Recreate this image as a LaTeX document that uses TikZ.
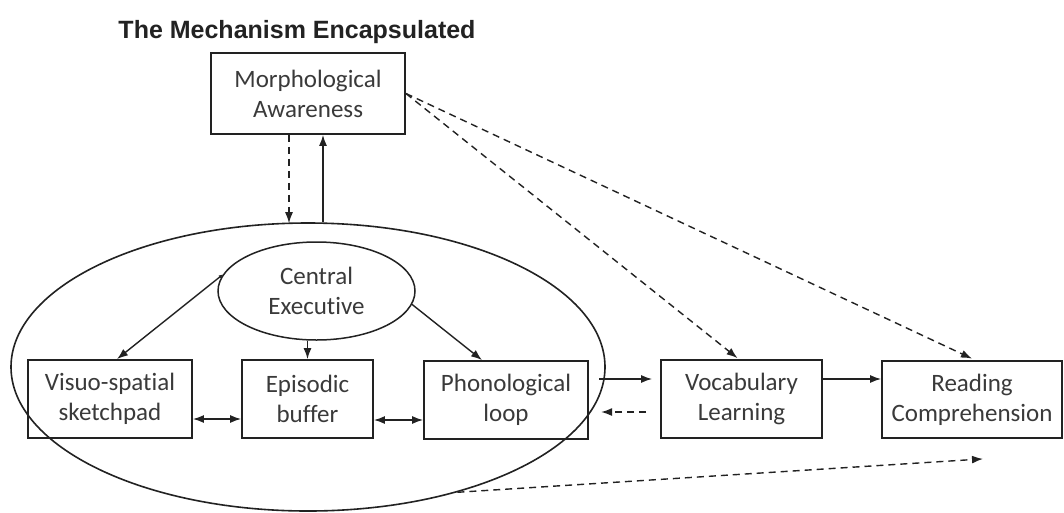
\documentclass[tikz,border=0pt]{standalone}
\usepackage{fontspec}
\setmainfont{Carlito}[Ligatures=NoCommon]
\newfontfamily\titlefont{Liberation Sans}
\usetikzlibrary{shapes.geometric,arrows.meta,calc}
\definecolor{ink}{HTML}{222222}
\definecolor{txt}{HTML}{3A3A3A}
\tikzset{
  boxnode/.style={draw=ink, line width=1.8pt, rectangle, inner sep=0pt, align=center,
    text=txt, font=\fontsize{25}{30}\selectfont},
  ellnode/.style={draw=ink, line width=1.5pt, ellipse, inner sep=0pt, align=center,
    text=txt, font=\fontsize{25}{30}\selectfont},
  arr/.style={draw=ink, line width=1.4pt, -{Latex[length=11pt,width=8pt]}},
  darr/.style={draw=ink, line width=1.4pt, {Latex[length=11pt,width=8pt]}-{Latex[length=11pt,width=8pt]}},
  dsh/.style={arr, dash pattern=on 7pt off 5pt},
  tinytip/.style={{Latex[length=4pt,width=4pt]}-{Latex[length=11pt,width=8pt]}},
}
\begin{document}
\begin{tikzpicture}[x=1pt,y=-1pt]
\useasboundingbox (0,0) rectangle (1064,512);
\fill[white] (0,0) rectangle (1064,512);

\node[text=ink, font=\titlefont\bfseries\fontsize{25}{30}\selectfont] (title) at (297,32) {The Mechanism Encapsulated};

\node[boxnode, minimum width=194pt, minimum height=81pt] (morph) at (308,93.5) {Morphological\\Awareness};

\node[draw=ink, line width=1.6pt, ellipse, minimum width=594pt, minimum height=288pt, inner sep=0pt] (wm) at (308,367) {};

\node[ellnode, minimum width=197pt, minimum height=98pt] (ce) at (316.5,291) {Central\\Executive};

\node[boxnode, minimum width=164pt, minimum height=78pt] (vis) at (110,399) {Visuo-spatial\\sketchpad};
\node[boxnode, minimum width=131pt, minimum height=78pt] (epi) at (307.5,399) {Episodic\\buffer};
\node[boxnode, minimum width=164pt, minimum height=78pt] (pho) at (506,400) {Phonological\\loop};
\node[boxnode, minimum width=161pt, minimum height=78pt] (voc) at (741.5,399) {Vocabulary\\Learning};
\node[boxnode, minimum width=180pt, minimum height=77pt] (rc) at (972,399.5) {Reading\\Comprehension};

% Morphological awareness <-> working memory
\coordinate (dA) at (289,0);
\coordinate (sA) at (323,0);
\draw[dsh] (morph.south -| dA) -- ($(wm.north -| dA)+(0,1)$);
\draw[arr] (wm.north -| sA) -- (morph.south -| sA);

% central executive to components
\draw[arr, tinytip] (ce.170) -- ($(vis.north)+(7,0)$);
\draw[arr] (ce.south -| epi.north) -- (epi.north);
\draw[arr] (ce.-8) -- ($(pho.north)+(-24,0)$);

% component links
\draw[darr] ($(vis.east)+(0,20)$) -- ($(epi.west)+(0,20)$);
\draw[darr] ($(epi.east)+(0,21)$) -- ($(pho.west)+(0,20)$);

% to vocabulary and reading
\coordinate (pv) at ($(voc.west)+(-61,-20)$);
\draw[arr] (pv) -- ($(voc.west)+(-8,-20)$);
\coordinate (vp) at ($(voc.west)+(-14,13)$);
\draw[dsh] (vp) -- ($(voc.west)+(-59,13)$);
\draw[arr] ($(voc.east)+(0,-20)$) -- ($(rc.west)+(0,-20.5)$);

% dashed from morphological awareness
\draw[dsh] (morph.east) -- ($(voc.north)+(-4,-1)$);
\draw[dsh] (morph.east) -- ($(rc.north)+(0,-1.5)$);

% dashed from working memory to reading comprehension
\draw[dsh] (wm.-40) -- ($(rc.south)+(11,20)$);
\end{tikzpicture}
\end{document}
